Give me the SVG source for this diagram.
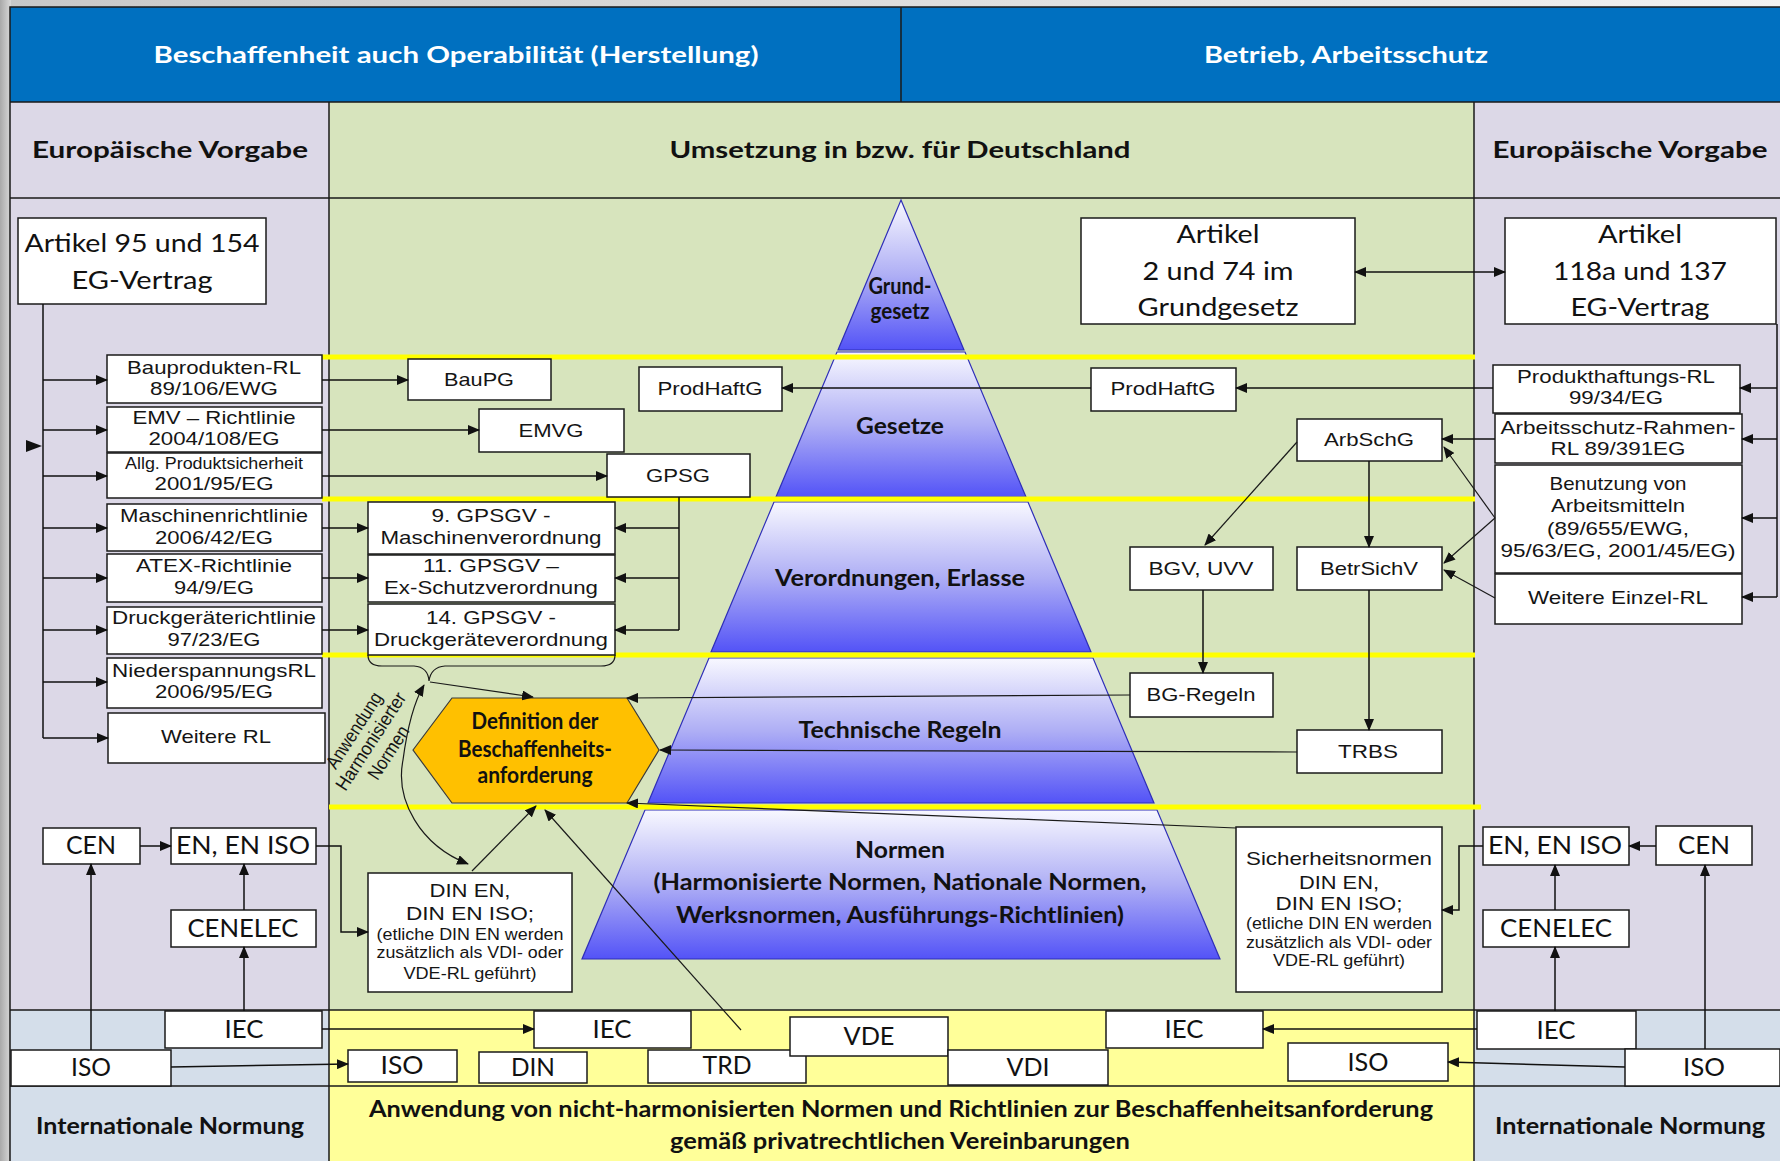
<svg xmlns="http://www.w3.org/2000/svg" width="1780" height="1161" viewBox="0 0 1780 1161">
  <style>
    .bx { fill:#fff; stroke:#1a1a1a; stroke-width:1.5; }
    .a { font-family:"Liberation Sans", Arial, sans-serif; font-size:19px; fill:#151515; text-anchor:middle; }
    .s { font-size:16px; }
    .c { font-family:Lato, "Liberation Sans", sans-serif; font-size:25px; fill:#111; text-anchor:middle; }
    .h { font-family:Lato, "Liberation Sans", sans-serif; font-weight:bold; font-size:22px; fill:#111; text-anchor:middle; }
    .w { fill:#fff; }
    .ln { fill:none; stroke:#111; stroke-width:1.5; }
    .th { fill:none; stroke:#1a1a1a; stroke-width:1.2; }
    .ar { marker-end:url(#ah); }
    .at { marker-end:url(#as); }
    .frame { fill:none; stroke:#1a1a1a; stroke-width:1.5; }
    .yl { stroke:#FFFF00; stroke-width:5; }
    .tier { fill:url(#pg); stroke:#2E2EB8; stroke-width:1.2; }
  </style>
  <defs>
    <marker id="ah" viewBox="0 0 12 10" refX="11" refY="5" markerWidth="12" markerHeight="10" markerUnits="userSpaceOnUse" orient="auto-start-reverse">
      <path d="M0,0 L12,5 L0,10 z" fill="#111"/>
    </marker>
    <marker id="as" viewBox="0 0 12 10" refX="11" refY="5" markerWidth="12" markerHeight="10" markerUnits="userSpaceOnUse" orient="auto-start-reverse">
      <path d="M0,0 L12,5 L0,10 z" fill="#111"/>
    </marker>
    <linearGradient id="pg" x1="0" y1="0" x2="0" y2="1">
      <stop offset="0" stop-color="#F8F8FF"/>
      <stop offset="0.5" stop-color="#AFAFF5"/>
      <stop offset="1" stop-color="#5353F7"/>
    </linearGradient>
    <linearGradient id="edge" x1="0" y1="0" x2="1" y2="0">
      <stop offset="0" stop-color="#a9a9a9"/>
      <stop offset="1" stop-color="#d9d9d9"/>
    </linearGradient>
    <linearGradient id="topedge" x1="0" y1="0" x2="1" y2="0">
      <stop offset="0" stop-color="#c8c8c8"/>
      <stop offset="1" stop-color="#f2f2f2"/>
    </linearGradient>
  </defs>

  <!-- page margin -->
  <rect x="0" y="0" width="1780" height="1161" fill="#dedede"/>
  <rect x="0" y="0" width="1780" height="8" fill="url(#topedge)"/>
  <rect x="0" y="0" width="11" height="1161" fill="url(#edge)"/>

  <!-- table background -->
  <g id="table">
    <rect x="10" y="7" width="1770" height="95" fill="#0070C0"/>
    <rect x="10" y="102" width="319" height="908" fill="#DCD8E7"/>
    <rect x="329" y="102" width="1145" height="908" fill="#D7E4BD"/>
    <rect x="1474" y="102" width="306" height="908" fill="#DCD8E7"/>
    <rect x="10" y="1010" width="319" height="151" fill="#D4DEEA"/>
    <rect x="329" y="1010" width="1145" height="151" fill="#FFFF99"/>
    <rect x="1474" y="1010" width="306" height="151" fill="#D4DEEA"/>
    <path class="frame" d="M10 1161 V7 H1780 M10 102 H1780 M10 198 H1780 M10 1010 H1780 M10 1086 H1780 M329 102 V1161 M1474 102 V1161 M901 7 V102"/>
    <text class="h w" x="456" y="63" font-size="23" textLength="605" lengthAdjust="spacingAndGlyphs">Beschaffenheit auch Operabilität (Herstellung)</text>
    <text class="h w" x="1346" y="63" font-size="23" textLength="284" lengthAdjust="spacingAndGlyphs">Betrieb, Arbeitsschutz</text>
    <text class="h" x="170" y="158" textLength="276" lengthAdjust="spacingAndGlyphs">Europäische Vorgabe</text>
    <text class="h" x="900" y="158" textLength="461" lengthAdjust="spacingAndGlyphs">Umsetzung in bzw. für Deutschland</text>
    <text class="h" x="1630" y="158" textLength="275" lengthAdjust="spacingAndGlyphs">Europäische Vorgabe</text>
    <text class="h" x="170" y="1134" font-size="21" textLength="268" lengthAdjust="spacingAndGlyphs">Internationale Normung</text>
    <text class="h" x="1630" y="1134" font-size="21" textLength="270" lengthAdjust="spacingAndGlyphs">Internationale Normung</text>
    <text class="h" x="901" y="1117" font-size="21" textLength="1064" lengthAdjust="spacingAndGlyphs">Anwendung von nicht-harmonisierten Normen und Richtlinien zur Beschaffenheitsanforderung</text>
    <text class="h" x="900" y="1149" font-size="21" textLength="460" lengthAdjust="spacingAndGlyphs">gemäß privatrechtlichen Vereinbarungen</text>
  </g>

  <!-- pyramid of legal levels -->
  <g id="pyramid">
    <polygon class="tier" points="901,200 964,350 838,350"/>
    <polygon class="tier" points="837,352 965,352 1026,497 776,497"/>
    <polygon class="tier" points="774,502 1028,502 1091,652 711,652"/>
    <polygon class="tier" points="709,658 1093,658 1154,803 648,803"/>
    <polygon class="tier" points="645,810 1157,810 1220,959 582,959"/>
    <text class="h" x="900" y="294" font-size="16" textLength="63" lengthAdjust="spacingAndGlyphs">Grund-</text>
    <text class="h" x="900" y="319" font-size="16" textLength="59" lengthAdjust="spacingAndGlyphs">gesetz</text>
    <text class="h" x="900" y="434" textLength="88" lengthAdjust="spacingAndGlyphs">Gesetze</text>
    <text class="h" x="900" y="586" textLength="250" lengthAdjust="spacingAndGlyphs">Verordnungen, Erlasse</text>
    <text class="h" x="900" y="738" textLength="203" lengthAdjust="spacingAndGlyphs">Technische Regeln</text>
    <text class="h" x="900" y="858" font-size="21" textLength="90" lengthAdjust="spacingAndGlyphs">Normen</text>
    <text class="h" x="900" y="890" font-size="21" textLength="493" lengthAdjust="spacingAndGlyphs">(Harmonisierte Normen, Nationale Normen,</text>
    <text class="h" x="900" y="923" font-size="21" textLength="448" lengthAdjust="spacingAndGlyphs">Werksnormen, Ausführungs-Richtlinien)</text>
  </g>

  <!-- level separators -->
  <g id="levels">
    <line class="yl" x1="322" y1="357" x2="1475" y2="357"/>
    <line class="yl" x1="322" y1="499" x2="1475" y2="499"/>
    <line class="yl" x1="322" y1="655" x2="1475" y2="655"/>
    <line class="yl" x1="329" y1="807" x2="1481" y2="807"/>
  </g>

  <!-- European directives (left) -->
  <g id="art95">
    <rect class="bx" x="18" y="218" width="248" height="86"/>
    <text class="c" x="142" y="252" font-size="26" textLength="235" lengthAdjust="spacingAndGlyphs">Artikel 95 und 154</text>
    <text class="c" x="142" y="289" font-size="26" textLength="141" lengthAdjust="spacingAndGlyphs">EG-Vertrag</text>
  </g>
  <g id="bauprodukten">
    <rect class="bx" x="107" y="355" width="215" height="48"/>
    <text class="a" x="214" y="374" textLength="174" lengthAdjust="spacingAndGlyphs">Bauprodukten-RL</text>
    <text class="a" x="214" y="395" textLength="128" lengthAdjust="spacingAndGlyphs">89/106/EWG</text>
  </g>
  <g id="emv">
    <rect class="bx" x="107" y="407" width="215" height="45"/>
    <text class="a" x="214" y="424" textLength="163" lengthAdjust="spacingAndGlyphs">EMV – Richtlinie</text>
    <text class="a" x="214" y="445" textLength="131" lengthAdjust="spacingAndGlyphs">2004/108/EG</text>
  </g>
  <g id="produktsicherheit">
    <rect class="bx" x="107" y="453" width="215" height="45"/>
    <text class="a s" x="214" y="469" textLength="178" lengthAdjust="spacingAndGlyphs">Allg. Produktsicherheit</text>
    <text class="a" x="214" y="490" textLength="119" lengthAdjust="spacingAndGlyphs">2001/95/EG</text>
  </g>
  <g id="maschinen">
    <rect class="bx" x="107" y="504" width="215" height="47"/>
    <text class="a" x="214" y="522" textLength="188" lengthAdjust="spacingAndGlyphs">Maschinenrichtlinie</text>
    <text class="a" x="214" y="544" textLength="118" lengthAdjust="spacingAndGlyphs">2006/42/EG</text>
  </g>
  <g id="atex">
    <rect class="bx" x="107" y="554" width="215" height="48"/>
    <text class="a" x="214" y="572" textLength="156" lengthAdjust="spacingAndGlyphs">ATEX-Richtlinie</text>
    <text class="a" x="214" y="594" textLength="80" lengthAdjust="spacingAndGlyphs">94/9/EG</text>
  </g>
  <g id="druckgeraete">
    <rect class="bx" x="107" y="607" width="215" height="47"/>
    <text class="a" x="214" y="624" textLength="204" lengthAdjust="spacingAndGlyphs">Druckgeräterichtlinie</text>
    <text class="a" x="214" y="646" textLength="93" lengthAdjust="spacingAndGlyphs">97/23/EG</text>
  </g>
  <g id="niederspannung">
    <rect class="bx" x="107" y="658" width="215" height="50"/>
    <text class="a" x="214" y="677" textLength="204" lengthAdjust="spacingAndGlyphs">NiederspannungsRL</text>
    <text class="a" x="214" y="698" textLength="118" lengthAdjust="spacingAndGlyphs">2006/95/EG</text>
  </g>
  <g id="weitere-rl">
    <rect class="bx" x="108" y="713" width="217" height="50"/>
    <text class="a" x="216" y="743" textLength="110" lengthAdjust="spacingAndGlyphs">Weitere RL</text>
  </g>

  <!-- German laws and ordinances -->
  <g id="baupg">
    <rect class="bx" x="408" y="359" width="143" height="41"/>
    <text class="a" x="479" y="386" textLength="70" lengthAdjust="spacingAndGlyphs">BauPG</text>
  </g>
  <g id="emvg">
    <rect class="bx" x="479" y="409" width="145" height="43"/>
    <text class="a" x="551" y="437" textLength="65" lengthAdjust="spacingAndGlyphs">EMVG</text>
  </g>
  <g id="gpsg">
    <rect class="bx" x="607" y="454" width="143" height="43"/>
    <text class="a" x="678" y="482" textLength="64" lengthAdjust="spacingAndGlyphs">GPSG</text>
  </g>
  <g id="prodhaftg-l">
    <rect class="bx" x="639" y="367" width="143" height="44"/>
    <text class="a" x="710" y="395" textLength="105" lengthAdjust="spacingAndGlyphs">ProdHaftG</text>
  </g>
  <g id="gpsgv9">
    <rect class="bx" x="368" y="502" width="247" height="52"/>
    <text class="a" x="491" y="522" textLength="119" lengthAdjust="spacingAndGlyphs">9. GPSGV -</text>
    <text class="a" x="491" y="544" textLength="221" lengthAdjust="spacingAndGlyphs">Maschinenverordnung</text>
  </g>
  <g id="gpsgv11">
    <rect class="bx" x="368" y="555" width="247" height="47"/>
    <text class="a" x="491" y="572" textLength="136" lengthAdjust="spacingAndGlyphs">11. GPSGV –</text>
    <text class="a" x="491" y="594" textLength="214" lengthAdjust="spacingAndGlyphs">Ex-Schutzverordnung</text>
  </g>
  <g id="gpsgv14">
    <rect class="bx" x="368" y="604" width="247" height="51"/>
    <text class="a" x="491" y="624" textLength="130" lengthAdjust="spacingAndGlyphs">14. GPSGV -</text>
    <text class="a" x="491" y="646" textLength="234" lengthAdjust="spacingAndGlyphs">Druckgeräteverordnung</text>
  </g>
  <g id="definition">
    <polygon points="413,750 452,698 627,698 659,750 627,803 452,803" fill="#FFC000" stroke="#3a3a3a" stroke-width="1.2"/>
    <text class="h" x="535" y="729" font-size="17" textLength="127" lengthAdjust="spacingAndGlyphs">Definition der</text>
    <text class="h" x="535" y="757" font-size="17" textLength="154" lengthAdjust="spacingAndGlyphs">Beschaffenheits-</text>
    <text class="h" x="535" y="783" font-size="17" textLength="115" lengthAdjust="spacingAndGlyphs">anforderung</text>
  </g>
  <g id="din-en">
    <rect class="bx" x="368" y="873" width="204" height="119"/>
    <text class="a" x="470" y="897" font-size="20" textLength="81" lengthAdjust="spacingAndGlyphs">DIN EN,</text>
    <text class="a" x="470" y="920" font-size="20" textLength="128" lengthAdjust="spacingAndGlyphs">DIN EN ISO;</text>
    <text class="a s" x="470" y="940" textLength="187" lengthAdjust="spacingAndGlyphs">(etliche DIN EN werden</text>
    <text class="a s" x="470" y="958" textLength="187" lengthAdjust="spacingAndGlyphs">zusätzlich als VDI- oder</text>
    <text class="a s" x="470" y="979" textLength="133" lengthAdjust="spacingAndGlyphs">VDE-RL geführt)</text>
  </g>
  <g id="art2">
    <rect class="bx" x="1081" y="218" width="274" height="106"/>
    <text class="c" x="1218" y="243" font-size="26" textLength="83" lengthAdjust="spacingAndGlyphs">Artikel</text>
    <text class="c" x="1218" y="280" font-size="26" textLength="151" lengthAdjust="spacingAndGlyphs">2 und 74 im</text>
    <text class="c" x="1218" y="316" font-size="26" textLength="161" lengthAdjust="spacingAndGlyphs">Grundgesetz</text>
  </g>
  <g id="prodhaftg-r">
    <rect class="bx" x="1091" y="368" width="145" height="43"/>
    <text class="a" x="1163" y="395" textLength="105" lengthAdjust="spacingAndGlyphs">ProdHaftG</text>
  </g>
  <g id="arbschg">
    <rect class="bx" x="1297" y="419" width="145" height="42"/>
    <text class="a" x="1369" y="446" textLength="90" lengthAdjust="spacingAndGlyphs">ArbSchG</text>
  </g>
  <g id="bgv">
    <rect class="bx" x="1130" y="547" width="143" height="43"/>
    <text class="a" x="1201" y="575" textLength="105" lengthAdjust="spacingAndGlyphs">BGV, UVV</text>
  </g>
  <g id="betrsichv">
    <rect class="bx" x="1297" y="547" width="145" height="43"/>
    <text class="a" x="1369" y="575" textLength="98" lengthAdjust="spacingAndGlyphs">BetrSichV</text>
  </g>
  <g id="bg-regeln">
    <rect class="bx" x="1130" y="673" width="143" height="44"/>
    <text class="a" x="1201" y="701" textLength="109" lengthAdjust="spacingAndGlyphs">BG-Regeln</text>
  </g>
  <g id="trbs">
    <rect class="bx" x="1297" y="730" width="145" height="43"/>
    <text class="a" x="1368" y="758" textLength="60" lengthAdjust="spacingAndGlyphs">TRBS</text>
  </g>
  <g id="sicherheitsnormen">
    <rect class="bx" x="1236" y="827" width="206" height="165"/>
    <text class="a" x="1339" y="865" font-size="20" textLength="186" lengthAdjust="spacingAndGlyphs">Sicherheitsnormen</text>
    <text class="a" x="1339" y="889" font-size="20" textLength="80" lengthAdjust="spacingAndGlyphs">DIN EN,</text>
    <text class="a" x="1339" y="910" font-size="20" textLength="127" lengthAdjust="spacingAndGlyphs">DIN EN ISO;</text>
    <text class="a s" x="1339" y="929" textLength="186" lengthAdjust="spacingAndGlyphs">(etliche DIN EN werden</text>
    <text class="a s" x="1339" y="948" textLength="186" lengthAdjust="spacingAndGlyphs">zusätzlich als VDI- oder</text>
    <text class="a s" x="1339" y="966" textLength="132" lengthAdjust="spacingAndGlyphs">VDE-RL geführt)</text>
  </g>

  <!-- European directives (right) -->
  <g id="art118a">
    <rect class="bx" x="1505" y="218" width="271" height="106"/>
    <text class="c" x="1640" y="243" font-size="26" textLength="84" lengthAdjust="spacingAndGlyphs">Artikel</text>
    <text class="c" x="1640" y="280" font-size="26" textLength="174" lengthAdjust="spacingAndGlyphs">118a und 137</text>
    <text class="c" x="1640" y="316" font-size="26" textLength="139" lengthAdjust="spacingAndGlyphs">EG-Vertrag</text>
  </g>
  <g id="produkthaftung">
    <rect class="bx" x="1493" y="365" width="247" height="48"/>
    <text class="a" x="1616" y="383" textLength="198" lengthAdjust="spacingAndGlyphs">Produkthaftungs-RL</text>
    <text class="a" x="1616" y="404" textLength="94" lengthAdjust="spacingAndGlyphs">99/34/EG</text>
  </g>
  <g id="arbeitsschutz-rl">
    <rect class="bx" x="1495" y="414" width="247" height="49"/>
    <text class="a" x="1618" y="434" textLength="235" lengthAdjust="spacingAndGlyphs">Arbeitsschutz-Rahmen-</text>
    <text class="a" x="1618" y="455" textLength="135" lengthAdjust="spacingAndGlyphs">RL 89/391EG</text>
  </g>
  <g id="arbeitsmittel">
    <rect class="bx" x="1495" y="465" width="247" height="108"/>
    <text class="a" x="1618" y="490" textLength="137" lengthAdjust="spacingAndGlyphs">Benutzung von</text>
    <text class="a" x="1618" y="512" textLength="134" lengthAdjust="spacingAndGlyphs">Arbeitsmitteln</text>
    <text class="a" x="1618" y="535" textLength="142" lengthAdjust="spacingAndGlyphs">(89/655/EWG,</text>
    <text class="a" x="1618" y="557" textLength="235" lengthAdjust="spacingAndGlyphs">95/63/EG, 2001/45/EG)</text>
  </g>
  <g id="einzel-rl">
    <rect class="bx" x="1495" y="574" width="247" height="50"/>
    <text class="a" x="1618" y="604" textLength="180" lengthAdjust="spacingAndGlyphs">Weitere Einzel-RL</text>
  </g>

  <!-- standardisation bodies -->
  <g id="cen-l">
    <rect class="bx" x="43" y="828" width="97" height="36"/>
    <text class="c" x="91" y="854" textLength="50" lengthAdjust="spacingAndGlyphs">CEN</text>
  </g>
  <g id="en-l">
    <rect class="bx" x="171" y="828" width="145" height="36"/>
    <text class="c" x="243" y="854" textLength="134" lengthAdjust="spacingAndGlyphs">EN, EN ISO</text>
  </g>
  <g id="cenelec-l">
    <rect class="bx" x="171" y="910" width="145" height="37"/>
    <text class="c" x="243" y="937" textLength="111" lengthAdjust="spacingAndGlyphs">CENELEC</text>
  </g>
  <g id="en-r">
    <rect class="bx" x="1483" y="827" width="146" height="38"/>
    <text class="c" x="1555" y="854" textLength="134" lengthAdjust="spacingAndGlyphs">EN, EN ISO</text>
  </g>
  <g id="cen-r">
    <rect class="bx" x="1656" y="826" width="96" height="39"/>
    <text class="c" x="1704" y="854" textLength="52" lengthAdjust="spacingAndGlyphs">CEN</text>
  </g>
  <g id="cenelec-r">
    <rect class="bx" x="1483" y="910" width="146" height="37"/>
    <text class="c" x="1556" y="937" textLength="112" lengthAdjust="spacingAndGlyphs">CENELEC</text>
  </g>
  <g id="iec-l">
    <rect class="bx" x="165" y="1011" width="157" height="37"/>
    <text class="c" x="244" y="1038" textLength="39" lengthAdjust="spacingAndGlyphs">IEC</text>
  </g>
  <g id="iso-l">
    <rect class="bx" x="11" y="1050" width="160" height="36"/>
    <text class="c" x="91" y="1076" textLength="40" lengthAdjust="spacingAndGlyphs">ISO</text>
  </g>
  <g id="iso-m1">
    <rect class="bx" x="348" y="1050" width="109" height="32"/>
    <text class="c" x="402" y="1074" textLength="43" lengthAdjust="spacingAndGlyphs">ISO</text>
  </g>
  <g id="din">
    <rect class="bx" x="479" y="1052" width="108" height="31"/>
    <text class="c" x="533" y="1076" textLength="44" lengthAdjust="spacingAndGlyphs">DIN</text>
  </g>
  <g id="iec-m1">
    <rect class="bx" x="534" y="1011" width="157" height="37"/>
    <text class="c" x="612" y="1038" textLength="39" lengthAdjust="spacingAndGlyphs">IEC</text>
  </g>
  <g id="trd">
    <rect class="bx" x="648" y="1050" width="158" height="33"/>
    <text class="c" x="727" y="1074" textLength="49" lengthAdjust="spacingAndGlyphs">TRD</text>
  </g>
  <g id="vde">
    <rect class="bx" x="790" y="1017" width="158" height="39"/>
    <text class="c" x="869" y="1045" textLength="51" lengthAdjust="spacingAndGlyphs">VDE</text>
  </g>
  <g id="vdi">
    <rect class="bx" x="948" y="1050" width="160" height="35"/>
    <text class="c" x="1028" y="1076" textLength="43" lengthAdjust="spacingAndGlyphs">VDI</text>
  </g>
  <g id="iec-m2">
    <rect class="bx" x="1106" y="1011" width="157" height="37"/>
    <text class="c" x="1184" y="1038" textLength="39" lengthAdjust="spacingAndGlyphs">IEC</text>
  </g>
  <g id="iso-m2">
    <rect class="bx" x="1288" y="1043" width="160" height="38"/>
    <text class="c" x="1368" y="1071" textLength="41" lengthAdjust="spacingAndGlyphs">ISO</text>
  </g>
  <g id="iec-r">
    <rect class="bx" x="1477" y="1011" width="159" height="38"/>
    <text class="c" x="1556" y="1039" textLength="39" lengthAdjust="spacingAndGlyphs">IEC</text>
  </g>
  <g id="iso-r">
    <rect class="bx" x="1625" y="1049" width="155" height="37"/>
    <text class="c" x="1704" y="1076" textLength="42" lengthAdjust="spacingAndGlyphs">ISO</text>
  </g>

  <!-- rotated annotation on the arc -->
  <g id="arc-label" transform="translate(372,742) rotate(-57)">
    <text class="a" x="0" y="-15" font-size="15" textLength="87" lengthAdjust="spacingAndGlyphs">Anwendung</text>
    <text class="a" x="0" y="5" font-size="15" textLength="113" lengthAdjust="spacingAndGlyphs">Harmonisierter</text>
    <text class="a" x="0" y="26" font-size="15" textLength="60" lengthAdjust="spacingAndGlyphs">Normen</text>
  </g>

  <g id="connectors">
    <!-- left trunk from Artikel 95/154 -->
    <path class="ln" d="M43 304 V738"/>
    <polygon points="26,440 42,446 26,452" fill="#111"/>
    <path class="ln ar" d="M43 380 H107"/>
    <path class="ln ar" d="M43 430 H107"/>
    <path class="ln ar" d="M43 476 H107"/>
    <path class="ln ar" d="M43 528 H107"/>
    <path class="ln ar" d="M43 578 H107"/>
    <path class="ln ar" d="M43 630 H107"/>
    <path class="ln ar" d="M43 682 H107"/>
    <path class="ln ar" d="M43 738 H108"/>
    <!-- directives to national laws -->
    <path class="ln ar" d="M322 380 H408"/>
    <path class="ln ar" d="M322 430 H479"/>
    <path class="ln ar" d="M322 476 H607"/>
    <path class="ln ar" d="M322 528 H368"/>
    <path class="ln ar" d="M322 578 H368"/>
    <path class="ln ar" d="M322 630 H368"/>
    <!-- GPSG to ordinances -->
    <path class="ln" d="M679 497 V630"/>
    <path class="ln ar" d="M679 528 H615"/>
    <path class="ln ar" d="M679 578 H615"/>
    <path class="ln ar" d="M679 630 H615"/>
    <!-- brace under ordinances -->
    <path class="th" d="M368 655 Q368 666 382 666 H414 Q428 667 429 681 Q431 667 445 666 H601 Q615 666 615 655"/>
    <path class="th at" d="M430 682 L533 697"/>
    <path class="th at" d="M468 864 C420 845 395 800 403 760 C407 730 414 702 424 685" marker-start="url(#as)"/>
    <!-- inputs to the requirement definition -->
    <path class="th at" d="M1130 695 L627 698"/>
    <path class="th at" d="M1297 752 L660 750"/>
    <path class="th at" d="M1236 828 L627 803"/>
    <path class="th at" d="M472 871 L536 806"/>
    <path class="th at" d="M741 1030 L545 810"/>
    <!-- product liability chain -->
    <path class="ln ar" d="M1091 388 H782"/>
    <path class="ln ar" d="M1493 388 H1236"/>
    <path class="ln ar" d="M1355 272 H1505" marker-start="url(#ah)"/>
    <!-- right trunk from Artikel 118a/137 -->
    <path class="ln" d="M1777 324 V597"/>
    <path class="ln ar" d="M1777 388 H1740"/>
    <path class="ln ar" d="M1777 439 H1742"/>
    <path class="ln ar" d="M1777 518 H1742"/>
    <path class="ln ar" d="M1777 597 H1742"/>
    <!-- occupational safety chain -->
    <path class="ln ar" d="M1495 439 H1442"/>
    <path class="th at" d="M1297 442 L1205 545"/>
    <path class="ln ar" d="M1369 461 V547"/>
    <path class="th at" d="M1495 518 L1444 447"/>
    <path class="th at" d="M1495 518 L1444 563"/>
    <path class="th at" d="M1495 598 L1444 570"/>
    <path class="ln ar" d="M1203 590 V673"/>
    <path class="ln ar" d="M1369 590 V730"/>
    <!-- European standards (left) -->
    <path class="ln ar" d="M140 846 H171"/>
    <path class="ln ar" d="M244 910 V864"/>
    <path class="ln ar" d="M244 1011 V947"/>
    <path class="ln ar" d="M91 1050 V864"/>
    <path class="ln ar" d="M316 846 H341 V932 H368"/>
    <path class="ln ar" d="M322 1029 H534"/>
    <path class="ln ar" d="M171 1067 L348 1064"/>
    <!-- European standards (right) -->
    <path class="ln ar" d="M1656 846 H1629"/>
    <path class="ln ar" d="M1483 846 H1459 V910 H1442"/>
    <path class="ln ar" d="M1555 910 V865"/>
    <path class="ln ar" d="M1555 1011 V947"/>
    <path class="ln ar" d="M1705 1049 V865"/>
    <path class="ln ar" d="M1477 1029 H1263"/>
    <path class="ln ar" d="M1625 1067 L1448 1062"/>
  </g>
</svg>
